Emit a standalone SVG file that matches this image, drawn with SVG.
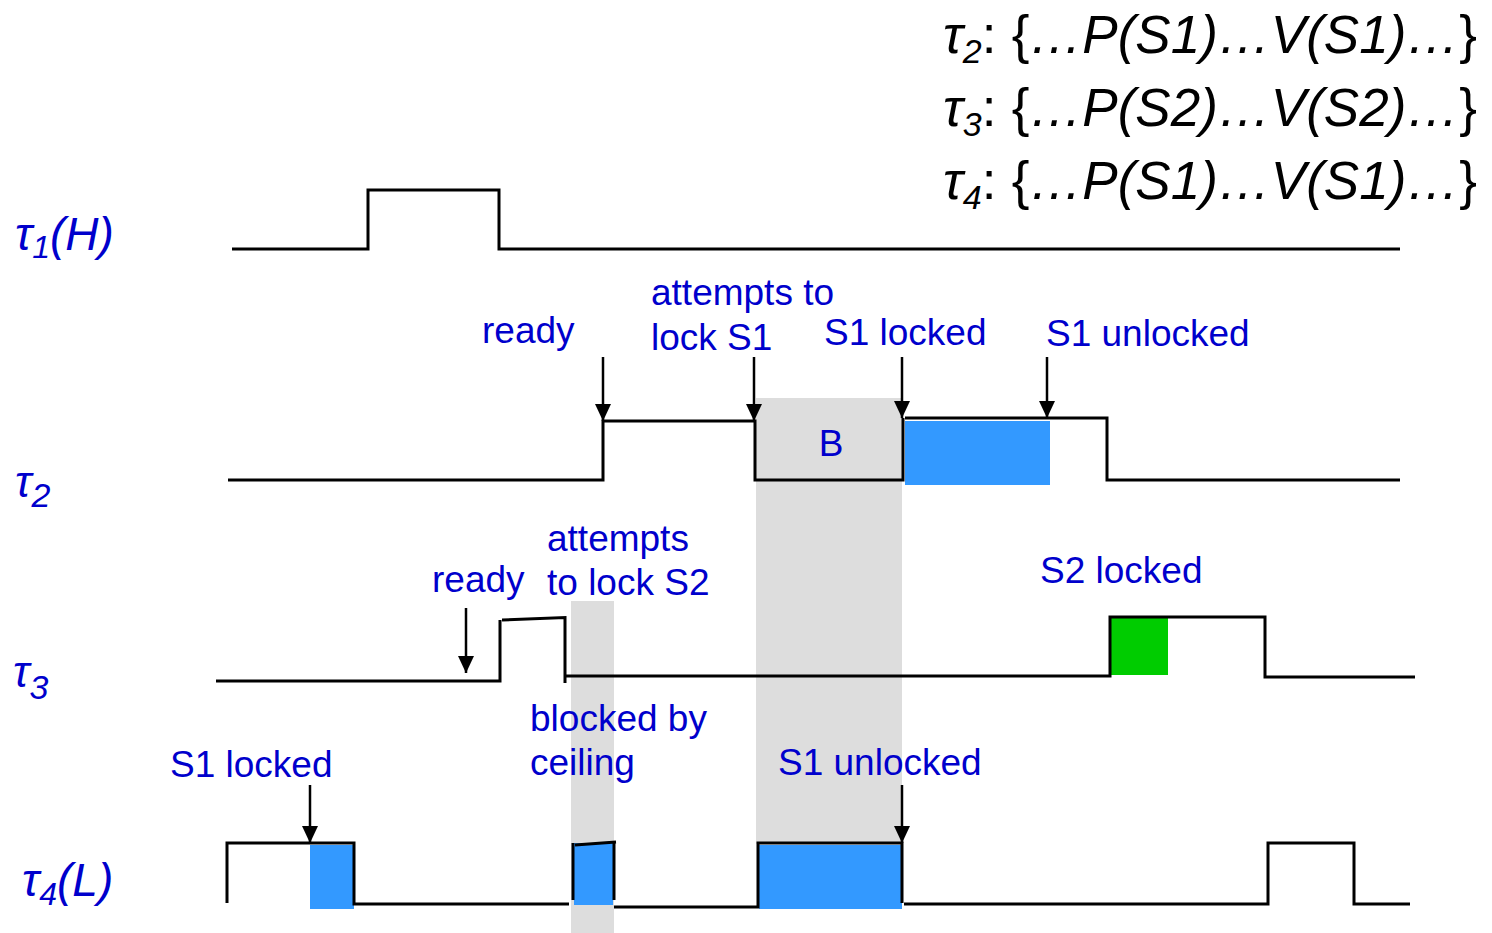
<svg xmlns="http://www.w3.org/2000/svg" width="1492" height="933" viewBox="0 0 1492 933">
  <style>
    .sig { fill: none; stroke: #000; stroke-width: 3; stroke-linecap: butt; stroke-linejoin: miter; }
    .arr { fill: none; stroke: #000; stroke-width: 2.5; marker-end: url(#head); }
    .lbl { font-family: "Liberation Sans", Arial, sans-serif; font-size: 37px; fill: #0000CC; }
    .tau { font-family: "Liberation Sans", Arial, sans-serif; font-style: italic; fill: #0000CC; }
    .code { font-family: "Liberation Sans", Arial, sans-serif; font-size: 53px; fill: #000; }
    .shade { fill: #DDDDDD; }
    .cs { fill: #3399FF; }
    .cs2 { fill: #00CC00; }
  </style>
  <defs>
    <marker id="head" markerUnits="userSpaceOnUse" markerWidth="18" markerHeight="18" viewBox="0 0 18 18" refX="17" refY="9" orient="auto">
      <path d="M0,1 L17,9 L0,17 Z" fill="#000"/>
    </marker>
  </defs>

  <!-- blocking intervals -->
  <g id="blocking">
    <rect class="shade" x="756" y="398" width="146" height="446"/>
    <rect class="shade" x="571" y="601" width="43" height="332"/>
  </g>

  <!-- task bodies -->
  <g id="task-code">
    <text class="code" x="943" y="53"><tspan font-style="italic">τ</tspan><tspan font-style="italic" font-size="34" dy="10">2</tspan><tspan dy="-10">:</tspan></text>
    <text class="code" x="1477" y="53" text-anchor="end">{<tspan font-style="italic">…P(S1)…V(S1)…</tspan>}</text>
    <text class="code" x="943" y="126"><tspan font-style="italic">τ</tspan><tspan font-style="italic" font-size="34" dy="10">3</tspan><tspan dy="-10">:</tspan></text>
    <text class="code" x="1477" y="126" text-anchor="end">{<tspan font-style="italic">…P(S2)…V(S2)…</tspan>}</text>
    <text class="code" x="943" y="199"><tspan font-style="italic">τ</tspan><tspan font-style="italic" font-size="34" dy="10">4</tspan><tspan dy="-10">:</tspan></text>
    <text class="code" x="1477" y="199" text-anchor="end">{<tspan font-style="italic">…P(S1)…V(S1)…</tspan>}</text>
  </g>

  <!-- task 1 -->
  <g id="task1">
    <text class="tau" x="15" y="250" font-size="46">τ<tspan font-size="32" dy="8">1</tspan><tspan dy="-8">(H)</tspan></text>
    <path class="sig" d="M232,249 H368 V190 H499 V249 H1400"/>
  </g>

  <!-- task 2 -->
  <g id="task2">
    <text class="tau" x="15" y="497" font-size="44">τ<tspan font-size="34" dy="10">2</tspan></text>
    <rect class="cs" x="905" y="421" width="145" height="64"/>
    <path class="sig" d="M228,480 H603 V421 H755 V480 H903 V418"/>
    <path class="sig" d="M905,418 H1107 V480 H1400"/>
    <text class="lbl" x="831" y="456" text-anchor="middle" font-size="43">B</text>
    <text class="lbl" x="482" y="343">ready</text>
    <text class="lbl" x="651" y="305">attempts to</text>
    <text class="lbl" x="651" y="350">lock S1</text>
    <text class="lbl" x="824" y="345">S1 locked</text>
    <text class="lbl" x="1046" y="346">S1 unlocked</text>
  </g>

  <!-- task 3 -->
  <g id="task3">
    <text class="tau" x="13" y="687" font-size="44">τ<tspan font-size="34" dy="12">3</tspan></text>
    <rect class="cs2" x="1111" y="618" width="57" height="57"/>
    <path class="sig" d="M216,681 H500 V620"/>
    <path class="sig" d="M502,620 L565,617.5 V683"/>
    <path class="sig" d="M566,676 H1110 V617 H1265 V677 H1415"/>
    <text class="lbl" x="432" y="592">ready</text>
    <text class="lbl" x="547" y="551">attempts</text>
    <text class="lbl" x="547" y="595">to lock S2</text>
    <text class="lbl" x="1040" y="583">S2 locked</text>
    <text class="lbl" x="530" y="731">blocked by</text>
    <text class="lbl" x="530" y="775">ceiling</text>
  </g>

  <!-- task 4 -->
  <g id="task4">
    <text class="tau" x="22" y="896" font-size="46">τ<tspan font-size="32" dy="9">4</tspan><tspan dy="-9">(L)</tspan></text>
    <rect class="cs" x="310" y="845" width="44" height="64"/>
    <rect class="cs" x="574" y="843" width="39" height="62"/>
    <rect class="cs" x="759" y="845" width="143" height="64"/>
    <path class="sig" d="M227,903 V843 H354 V904 H569"/>
    <path class="sig" d="M573,900 V843"/>
    <path class="sig" d="M575,845 L616,842"/>
    <path class="sig" d="M614,843 V900"/>
    <path class="sig" d="M614,907 H758 V843 H902 V903"/>
    <path class="sig" d="M904,904 H1268 V843 H1354 V904 H1410"/>
    <text class="lbl" x="170" y="777">S1 locked</text>
    <text class="lbl" x="778" y="775">S1 unlocked</text>
  </g>

  <!-- event arrows -->
  <g id="connectors">
    <line class="arr" x1="603" y1="357" x2="603" y2="421"/>
    <line class="arr" x1="754" y1="357" x2="754" y2="421"/>
    <line class="arr" x1="902" y1="357" x2="902" y2="418"/>
    <line class="arr" x1="1047" y1="357" x2="1047" y2="418"/>
    <line class="arr" x1="466" y1="608" x2="466" y2="673"/>
    <line class="arr" x1="310" y1="785" x2="310" y2="843"/>
    <line class="arr" x1="902" y1="785" x2="902" y2="843"/>
  </g>
</svg>
